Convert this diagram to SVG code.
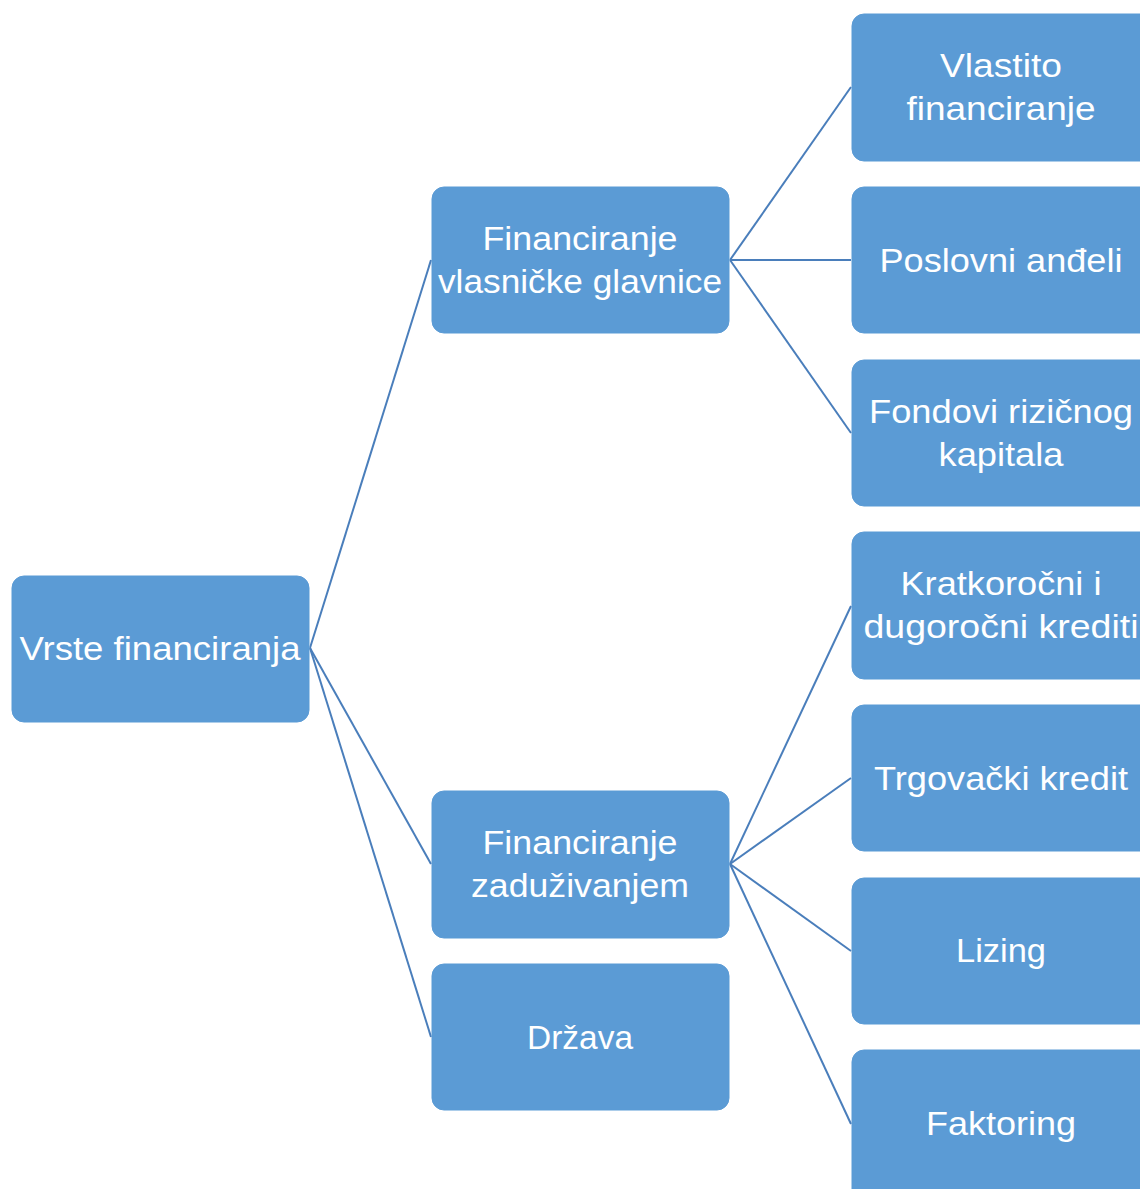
<svg xmlns="http://www.w3.org/2000/svg" width="1140" height="1189" viewBox="0 0 1140 1189">
<style>
.box{fill:#5B9BD5;stroke:#5B9BD5;stroke-width:1}
.t{font-family:"Liberation Sans",Arial,sans-serif;font-size:34px;fill:#FFFFFF;text-anchor:middle}
.c{stroke:#4A7EBB;stroke-width:2;fill:none}
</style>
<rect width="1140" height="1189" fill="#FFFFFF"/>
<g id="connectors">
<line class="c" x1="310" y1="648" x2="431" y2="260"/>
<line class="c" x1="310" y1="648" x2="431" y2="864"/>
<line class="c" x1="310" y1="648" x2="431" y2="1037"/>
<line class="c" x1="730" y1="260" x2="851" y2="87"/>
<line class="c" x1="730" y1="260" x2="851" y2="260"/>
<line class="c" x1="730" y1="260" x2="851" y2="433"/>
<line class="c" x1="730" y1="864" x2="851" y2="606"/>
<line class="c" x1="730" y1="864" x2="851" y2="778"/>
<line class="c" x1="730" y1="864" x2="851" y2="951"/>
<line class="c" x1="730" y1="864" x2="851" y2="1124"/>
</g>
<g id="root">
<rect class="box" x="12" y="576" width="297" height="146" rx="12"/>
<text class="t" x="160" y="660" textLength="281" lengthAdjust="spacingAndGlyphs">Vrste financiranja</text>
</g>
<g id="equity">
<rect class="box" x="432" y="187" width="297" height="146" rx="12"/>
<text class="t" x="580" y="250" textLength="195" lengthAdjust="spacingAndGlyphs">Financiranje</text>
<text class="t" x="580" y="293" textLength="284" lengthAdjust="spacingAndGlyphs">vlasničke glavnice</text>
</g>
<g id="debt">
<rect class="box" x="432" y="791" width="297" height="147" rx="12"/>
<text class="t" x="580" y="854" textLength="195" lengthAdjust="spacingAndGlyphs">Financiranje</text>
<text class="t" x="580" y="897" textLength="218" lengthAdjust="spacingAndGlyphs">zaduživanjem</text>
</g>
<g id="state">
<rect class="box" x="432" y="964" width="297" height="146" rx="12"/>
<text class="t" x="580" y="1049" textLength="106" lengthAdjust="spacingAndGlyphs">Država</text>
</g>
<g id="own">
<rect class="box" x="852" y="14" width="300" height="147" rx="12"/>
<text class="t" x="1001" y="77" textLength="122" lengthAdjust="spacingAndGlyphs">Vlastito</text>
<text class="t" x="1001" y="120" textLength="189" lengthAdjust="spacingAndGlyphs">financiranje</text>
</g>
<g id="angels">
<rect class="box" x="852" y="187" width="300" height="146" rx="12"/>
<text class="t" x="1001" y="272" textLength="243" lengthAdjust="spacingAndGlyphs">Poslovni anđeli</text>
</g>
<g id="vc">
<rect class="box" x="852" y="360" width="300" height="146" rx="12"/>
<text class="t" x="1001" y="423" textLength="264" lengthAdjust="spacingAndGlyphs">Fondovi rizičnog</text>
<text class="t" x="1001" y="466" textLength="125" lengthAdjust="spacingAndGlyphs">kapitala</text>
</g>
<g id="loans">
<rect class="box" x="852" y="532" width="300" height="147" rx="12"/>
<text class="t" x="1001" y="595" textLength="201" lengthAdjust="spacingAndGlyphs">Kratkoročni i</text>
<text class="t" x="1001" y="638" textLength="275" lengthAdjust="spacingAndGlyphs">dugoročni krediti</text>
</g>
<g id="trade">
<rect class="box" x="852" y="705" width="300" height="146" rx="12"/>
<text class="t" x="1001" y="790" textLength="254" lengthAdjust="spacingAndGlyphs">Trgovački kredit</text>
</g>
<g id="leasing">
<rect class="box" x="852" y="878" width="300" height="146" rx="12"/>
<text class="t" x="1001" y="962" textLength="90" lengthAdjust="spacingAndGlyphs">Lizing</text>
</g>
<g id="factoring">
<rect class="box" x="852" y="1050" width="300" height="160" rx="12"/>
<text class="t" x="1001" y="1135" textLength="150" lengthAdjust="spacingAndGlyphs">Faktoring</text>
</g>
</svg>
